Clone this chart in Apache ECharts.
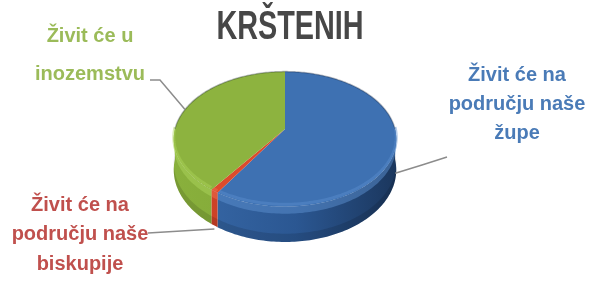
<!DOCTYPE html>
<html>
<head>
<meta charset="utf-8">
<script src="https://cdn.jsdelivr.net/npm/echarts@6/dist/echarts.min.js"></script>
<style>
html, body { margin: 0; padding: 0; background: #fff; }
#container { width: 592px; height: 298px; }
</style>
</head>
<body>
<div id="container"></div>
<script>
const chartTitle = 'KRŠTENIH';
const categories = ['Živit će na\npodručju naše\nžupe', 'Živit će na\npodručju naše\nbiskupije', 'Živit će u\ninozemstvu'];
const shares = [59, 1, 40];

// colours
const topColors = ['#3e71b2', '#dc4b2c', '#8db33f'];
const rimColors = ['#5b8fcf', '#f07050', '#acd45c'];
const sideStops = [
    ['#3869a8', '#2b5792', '#1b375e'],
    ['#d4452a', '#c03a22', '#a02e1a'],
    ['#89b03c', '#80a637', '#6a8e2c']
];
const labelColors = ['#4a7bb7', '#c0504d', '#9bbb59'];

// layout of the tilted pie (k = perspective) and of the labels
const pie = { cx: 285, cy: 129, rx: 110, ry: 66, k: 0.15, depth: 30 };
const labelLayout = [
    { x: 517, y: 82, lh: 29, anchorDepth: 0.8, path: [[422, 165], [447, 157]] },
    { x: 80, y: 212, lh: 29.5, anchorDepth: 1.1, path: [[148, 233]] },
    { x: 90, y: 43, lh: 38, anchorDepth: 0, path: [[160, 80], [150, 80]] }
];
const labelFont = 'bold 20px "Liberation Sans", Arial, sans-serif';

function edgePt(a, d) {
    const u = Math.sin(a), v = -Math.cos(a), w = 1 - pie.k * v;
    return [pie.cx + pie.rx * u / w, pie.cy + pie.ry * v / w + (d || 0) / w];
}
function arcPts(a0, a1, d) {
    const n = Math.max(2, Math.ceil(Math.abs(a1 - a0) / 0.02));
    const pts = [];
    for (let i = 0; i <= n; i++) pts.push(edgePt(a0 + (a1 - a0) * i / n, d));
    return pts;
}

function renderSlice(params, api) {
    const i = params.dataIndex;
    const total = shares.reduce((s, v) => s + v, 0);
    let before = 0;
    for (let k = 0; k < i; k++) before += shares[k];
    const a0 = before / total * 2 * Math.PI;
    const a1 = a0 + api.value(0) / total * 2 * Math.PI;
    const children = [];

    // side wall, only the front half is visible
    const s0 = Math.max(a0, Math.PI / 2);
    const s1 = Math.min(a1, 1.5 * Math.PI);
    if (s1 > s0) {
        children.push({
            type: 'polygon',
            shape: { points: arcPts(s0, s1, 0).concat(arcPts(s1, s0, pie.depth)) },
            style: {
                fill: {
                    type: 'linear', x: pie.cx - pie.rx, y: 0, x2: pie.cx + pie.rx, y2: 0, global: true,
                    colorStops: [
                        { offset: 0, color: sideStops[i][0] },
                        { offset: 0.55, color: sideStops[i][1] },
                        { offset: 1, color: sideStops[i][2] }
                    ]
                }
            }
        });
        // light bevel at the top of the side
        children.push({
            type: 'polygon',
            shape: { points: arcPts(s0, s1, 0).concat(arcPts(s1, s0, 6)) },
            style: { fill: rimColors[i], opacity: 0.5 }
        });
        // darker foot
        children.push({
            type: 'polygon',
            shape: { points: arcPts(s0, s1, pie.depth - 7).concat(arcPts(s1, s0, pie.depth)) },
            style: { fill: 'rgba(0,0,0,0.12)' }
        });
    }

    // top face
    children.push({
        type: 'polygon',
        shape: { points: [[pie.cx, pie.cy]].concat(arcPts(a0, a1, 0)) },
        style: { fill: topColors[i] }
    });
    if (s1 > s0) {
        children.push({
            type: 'polyline',
            shape: { points: arcPts(s0, s1, -2) },
            style: { stroke: rimColors[i], lineWidth: 3, opacity: 0.45, fill: null }
        });
    }
    // darker back rim
    const backs = [[a0, Math.min(a1, Math.PI / 2)], [Math.max(a0, 1.5 * Math.PI), a1]];
    backs.forEach(function (b) {
        if (b[1] > b[0]) {
            children.push({
                type: 'polyline',
                shape: { points: arcPts(b[0], b[1], 0) },
                style: { stroke: 'rgba(20,30,50,0.3)', lineWidth: 1.5, fill: null }
            });
        }
    });

    // leader line and label
    const lay = labelLayout[i];
    const mid = (a0 + a1) / 2;
    children.push({
        type: 'polyline',
        shape: { points: [edgePt(mid, pie.depth * lay.anchorDepth)].concat(lay.path) },
        style: { stroke: '#8c8c8c', lineWidth: 1.5, fill: null }
    });
    categories[i].split('\n').forEach(function (line, k) {
        children.push({
            type: 'text',
            style: {
                text: line, x: lay.x, y: lay.y + k * lay.lh - 7,
                font: labelFont, fill: labelColors[i],
                align: 'center', verticalAlign: 'middle'
            }
        });
    });

    return { type: 'group', children: children };
}

window.onload = function () {
    const dom = document.getElementById('container');
    const myChart = echarts.init(dom);
    const option = {
        animation: false,
        backgroundColor: '#fff',
        graphic: [{
            type: 'text',
            x: 290,
            y: 28,
            scaleX: 0.72,
            style: {
                text: chartTitle,
                font: 'bold 40px "Liberation Sans", Arial, sans-serif',
                fill: '#474747',
                align: 'center',
                verticalAlign: 'middle'
            }
        }],
        series: [{
            type: 'custom',
            coordinateSystem: 'none',
            renderItem: renderSlice,
            data: shares.map(function (v, i) { return { name: categories[i], value: [v] }; })
        }]
    };
    myChart.setOption(option);
};
</script>
</body>
</html>
